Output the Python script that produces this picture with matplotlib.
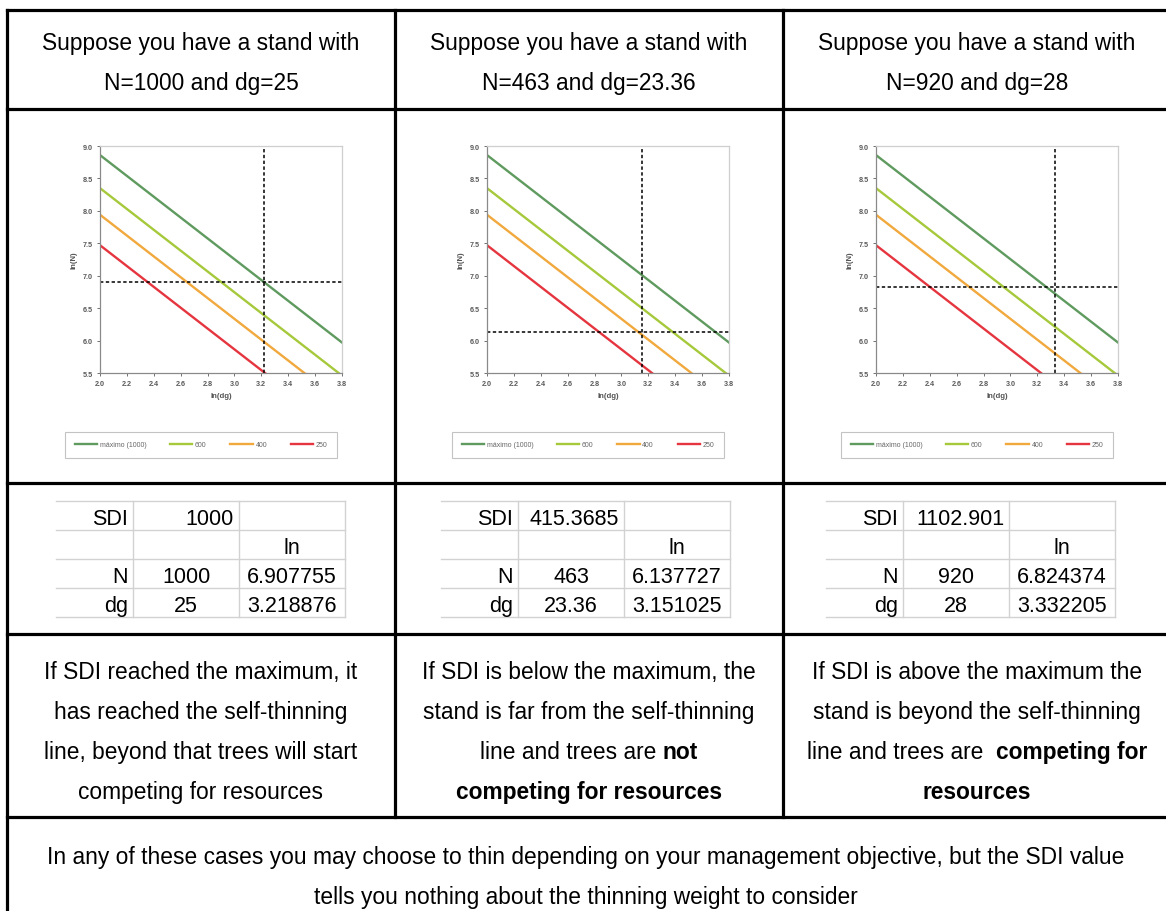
import matplotlib
matplotlib.use('Agg')
import matplotlib.pyplot as plt
from matplotlib.lines import Line2D

plt.rcParams['font.family'] = ['Liberation Sans', 'DejaVu Sans']

W, H = 1166, 912

# ---------------- data ----------------
ln_dg_range = [2.0, 3.8]
series_labels = ['máximo (1000)', '600', '400', '250']
ln_n_at_start = [8.86, 8.35, 7.94, 7.47]
ln_n_at_end = [5.97, 5.46, 5.05, 4.58]
series_colors = ['#5f9a5f', '#a6c93c', '#f1a93e', '#e5353f']

x_ticks = [2.0, 2.2, 2.4, 2.6, 2.8, 3.0, 3.2, 3.4, 3.6, 3.8]
y_ticks = [5.5, 6.0, 6.5, 7.0, 7.5, 8.0, 8.5, 9.0]

header_line1 = 'Suppose you have a stand with'
header_line2 = ['N=1000 and dg=25', 'N=463 and dg=23.36', 'N=920 and dg=28']

sdi_values = ['1000', '415.3685', '1102.901']
n_values = ['1000', '463', '920']
dg_values = ['25', '23.36', '28']
ln_n_values = ['6.907755', '6.137727', '6.824374']
ln_dg_values = ['3.218876', '3.151025', '3.332205']

body_text = [
    [[('If SDI reached the maximum, it', 'normal')],
     [('has reached the self-thinning', 'normal')],
     [('line, beyond that trees will start', 'normal')],
     [('competing for resources', 'normal')]],
    [[('If SDI is below the maximum, the', 'normal')],
     [('stand is far from the self-thinning', 'normal')],
     [('line and trees are ', 'normal'), ('not', 'bold')],
     [('competing for resources', 'bold')]],
    [[('If SDI is above the maximum the', 'normal')],
     [('stand is beyond the self-thinning', 'normal')],
     [('line and trees are  ', 'normal'), ('competing for', 'bold')],
     [('resources', 'bold')]],
]
footer_lines = ['In any of these cases you may choose to thin depending on your management objective, but the SDI value',
                'tells you nothing about the thinning weight to consider']

# ---------------- layout (pixels) ----------------
col_x = [7, 395, 783, 1171]
row_y = [11, 110, 484, 635, 818, 940]
chart_off = [0, 387, 776]
table_off = [0, 385, 770]
FS = 16.4          # main text size (pt at 100 dpi)

fig = plt.figure(figsize=(W / 100, H / 100), dpi=100)
bg = fig.add_axes([0, 0, 1, 1])
bg.set_xlim(0, W)
bg.set_ylim(H, 0)
bg.axis('off')

def hline(y, x0, x1, **kw):
    bg.add_line(Line2D([x0, x1], [y, y], **kw))

def vline(x, y0, y1, **kw):
    bg.add_line(Line2D([x, x], [y0, y1], **kw))

border = dict(color='black', lw=2.3, solid_capstyle='projecting')
for y in row_y[:5]:
    hline(y, col_x[0], col_x[3], **border)
vline(col_x[0], row_y[0], H + 5, **border)
vline(col_x[3], row_y[0], H + 5, **border)
for x in col_x[1:3]:
    vline(x, row_y[0], row_y[4], **border)

fig.canvas.draw()
renderer = fig.canvas.get_renderer()

def text_width(s, weight):
    t = bg.text(0, 0, '|' + s + '|', fontsize=FS, fontweight=weight)
    w1 = t.get_window_extent(renderer=renderer).width
    t.remove()
    t = bg.text(0, 0, '||', fontsize=FS, fontweight=weight)
    w0 = t.get_window_extent(renderer=renderer).width
    t.remove()
    return w1 - w0

def mixed_line(xc, y, segs):
    widths = [text_width(s, w) for s, w in segs]
    x = xc - sum(widths) / 2
    for (s, w), wd in zip(segs, widths):
        bg.text(x, y, s, fontsize=FS, fontweight=w, ha='left', va='center_baseline', color='black')
        x += wd

for i in range(3):
    xc = (col_x[i] + col_x[i + 1]) / 2
    # header
    bg.text(xc, 41, header_line1, fontsize=FS, ha='center', va='center_baseline')
    bg.text(xc, 81, header_line2[i], fontsize=FS, ha='center', va='center_baseline')
    # body text
    for j, segs in enumerate(body_text[i]):
        mixed_line(xc, 670 + j * 40, segs)

    # small spreadsheet table
    o = table_off[i]
    tx = [56 + o, 133 + o, 239 + o, 345 + o]
    ty = [502, 531, 560, 589, 618]
    gray = dict(color='#d2d2d2', lw=1.0)
    for y in ty:
        hline(y, tx[0], tx[3], **gray)
    for x in tx[1:]:
        vline(x, ty[0], ty[-1], **gray)
    tfs = 15.5
    rows = [('SDI', sdi_values[i], ''), ('', '', 'ln'),
            ('N', n_values[i], ln_n_values[i]), ('dg', dg_values[i], ln_dg_values[i])]
    for r, (a, b, c) in enumerate(rows):
        yc = (ty[r] + ty[r + 1]) / 2 + 1
        bg.text(tx[1] - 5, yc, a, fontsize=tfs, ha='right', va='center_baseline')
        if r == 0:
            bg.text(tx[2] - 5, yc, b, fontsize=tfs, ha='right', va='center_baseline')
        else:
            bg.text((tx[1] + tx[2]) / 2, yc, b, fontsize=tfs, ha='center', va='center_baseline')
        bg.text((tx[2] + tx[3]) / 2, yc, c, fontsize=tfs, ha='center', va='center_baseline')

    # chart
    co = chart_off[i]
    x0, x1, y0, y1 = 100 + co, 342 + co, 147, 374
    ax = fig.add_axes([x0 / W, 1 - y1 / H, (x1 - x0) / W, (y1 - y0) / H])
    handles = []
    for lab, a, b, col in zip(series_labels, ln_n_at_start, ln_n_at_end, series_colors):
        h, = ax.plot(ln_dg_range, [a, b], color=col, lw=1.7, label=lab)
        handles.append(h)
    ax.axvline(float(ln_dg_values[i]), color='black', ls=(0, (2.2, 1.6)), lw=1.1)
    ax.axhline(float(ln_n_values[i]), color='black', ls=(0, (2.2, 1.6)), lw=1.1)
    ax.set_xlim(2.0, 3.8)
    ax.set_ylim(5.5, 9.0)
    ax.set_xticks(x_ticks)
    ax.set_yticks(y_ticks)
    ax.set_xticklabels([f'{v:.1f}' for v in x_ticks], fontweight='bold')
    ax.set_yticklabels([f'{v:.1f}' for v in y_ticks], fontweight='bold')
    ax.tick_params(labelsize=5.2, colors='#5a5a5a', length=2.5, width=0.6, pad=2.5)
    for side in ['top', 'right']:
        ax.spines[side].set_color('#cfcfcf')
        ax.spines[side].set_linewidth(0.9)
    for side in ['left', 'bottom']:
        ax.spines[side].set_color('#8a8a8a')
        ax.spines[side].set_linewidth(0.9)
    ax.set_xlabel('ln(dg)', fontsize=5.6, fontweight='bold', color='#555555', labelpad=4)
    ax.set_ylabel('ln(N)', fontsize=5.6, fontweight='bold', color='#555555', labelpad=4)
    leg = ax.legend(handles, series_labels, ncol=4, loc='center', mode='expand',
                    bbox_to_anchor=((62 + co) / W, 1 - 459 / H, 278 / W, 26 / H),
                    bbox_transform=fig.transFigure, fontsize=5.0, frameon=True,
                    fancybox=False, edgecolor='#b5b5b5', handlelength=3.2,
                    borderpad=1.3, columnspacing=1.0, handletextpad=0.4)
    for t in leg.get_texts():
        t.set_color('#666666')
    leg.get_frame().set_linewidth(0.8)

# footer
xc = (col_x[0] + col_x[3]) / 2 - 3
bg.text(xc, 855, footer_lines[0], fontsize=FS, ha='center', va='center_baseline')
bg.text(xc, 895, footer_lines[1], fontsize=FS, ha='center', va='center_baseline')

fig.savefig('out.png', dpi=100)
